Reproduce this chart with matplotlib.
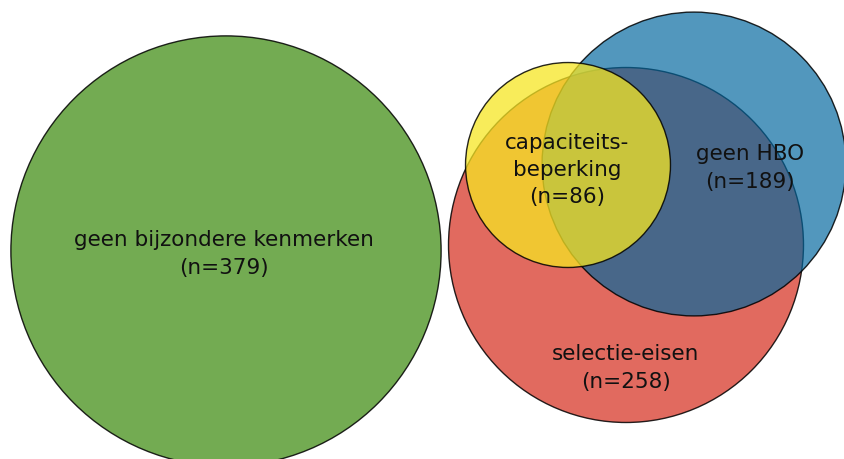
import numpy as np
import matplotlib
matplotlib.use('Agg')
import matplotlib.pyplot as plt
from matplotlib.patches import Circle
from matplotlib.colors import to_rgba

# ── data ─────────────────────────────────────────────────────────────────────
labels = ['geen bijzondere kenmerken', 'selectie-eisen', 'geen HBO', 'capaciteits-\nbeperking']
counts = [379, 258, 189, 86]
colors = ['#448F18', '#D8382A', '#00669E', '#F6E623']

# ── layout (pixel coordinates, y downwards) ──────────────────────────────────
W, H = 845, 459
centers = [(226, 251), (626, 245), (694, 164), (568, 165)]
label_pos = [(224, 254), (626, 368), (750, 168), (567, 170)]
alphas = [0.75, 0.75, 0.68, 0.75]
scale = 11.05  # radius = scale * sqrt(n), area proportional to n

fig = plt.figure(figsize=(W / 100, H / 100), dpi=100)
ax = fig.add_axes([0, 0, 1, 1])
ax.set_xlim(0, W)
ax.set_ylim(H, 0)
ax.set_aspect('equal')
ax.axis('off')

for (cx, cy), n, col, a in zip(centers, counts, colors, alphas):
    r = scale * np.sqrt(n)
    ax.add_patch(Circle((cx, cy), r, facecolor=to_rgba(col, a),
                        edgecolor=(0, 0, 0, 0.85), linewidth=1.0))

for (tx, ty), lab, n in zip(label_pos, labels, counts):
    ax.text(tx, ty, f'{lab}\n(n={n})', ha='center', va='center',
            fontsize=15.5, linespacing=1.45, color='#111111',
            family='DejaVu Sans')

fig.savefig('out.png', dpi=100)
plt.close(fig)
